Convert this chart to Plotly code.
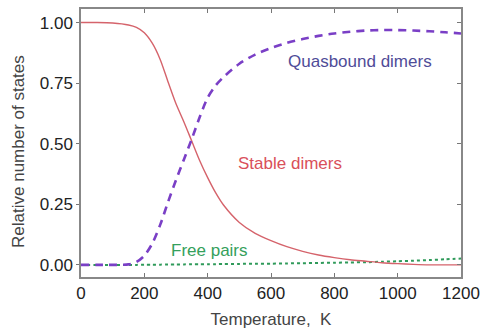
import plotly.graph_objects as go

temperature = [0, 50, 100, 150, 175, 200, 225, 250, 275, 300, 325, 350, 375, 400, 425, 450,
               500, 550, 600, 650, 700, 750, 800, 850, 900, 950, 1000, 1050, 1100, 1150, 1200]
stable = [1.0, 1.0, 0.998, 0.99, 0.98, 0.958, 0.915, 0.848, 0.755, 0.665,
          0.59, 0.51, 0.43, 0.36, 0.298, 0.247, 0.175, 0.13, 0.10, 0.075,
          0.056, 0.041, 0.03, 0.021, 0.015, 0.009, 0.005, 0.002, 0.0, 0.0, 0.0]
quasbound = [0, 0, 0, 0.002, 0.012, 0.038, 0.088, 0.165, 0.26, 0.35,
             0.435, 0.52, 0.61, 0.69, 0.74, 0.775, 0.83, 0.868, 0.895, 0.916,
             0.932, 0.945, 0.955, 0.962, 0.967, 0.969, 0.969, 0.967, 0.964, 0.96, 0.955]
free = [0, 0, 0, 0, 0, 0.001, 0.001, 0.001, 0.002, 0.002,
        0.002, 0.003, 0.003, 0.003, 0.003, 0.004, 0.004, 0.005, 0.005, 0.006,
        0.007, 0.008, 0.009, 0.01, 0.011, 0.013, 0.015, 0.017, 0.02, 0.023, 0.026]

x_ticks = [0, 200, 400, 600, 800, 1000, 1200]
y_ticks = [0, 0.25, 0.5, 0.75, 1.0]
y_tick_labels = ["0.00", "0.25", "0.50", "0.75", "1.00"]

labels = ["Quasbound dimers", "Stable dimers", "Free pairs"]
label_x = [880, 660, 405]
label_y = [0.84, 0.42, 0.06]
label_colors = ["#4f4c98", "#d9505a", "#34a05c"]

FONT = "Liberation Sans, Arial, sans-serif"

fig = go.Figure()
fig.add_trace(go.Scatter(x=temperature, y=free, mode="lines", line=dict(color="#2f9a5a", width=2, dash="dot", shape="spline", smoothing=0.8), showlegend=False))
fig.add_trace(go.Scatter(x=temperature, y=stable, mode="lines", line=dict(color="#d5636b", width=1.4, shape="spline", smoothing=0.8), showlegend=False))
fig.add_trace(go.Scatter(x=temperature, y=quasbound, mode="lines", line=dict(color="#7a3fc6", width=2.6, dash="8px,6px", shape="spline", smoothing=0.8), showlegend=False))
# invisible trace for right axis
fig.add_trace(go.Scatter(x=[None], y=[None], yaxis="y2", showlegend=False))

for t, xx, yy, c in zip(labels, label_x, label_y, label_colors):
    fig.add_annotation(x=xx, y=yy, text=t, showarrow=False, font=dict(family=FONT, size=17, color=c), xanchor="center", yanchor="middle")

# y-axis title
fig.add_annotation(x=-0.166, y=0.47, xref="paper", yref="paper", text="Relative number of states", textangle=-90,
                   showarrow=False, font=dict(family=FONT, size=17, color="#444"), xanchor="center", yanchor="middle")

fig.update_layout(
    width=482, height=331,
    margin=dict(l=81, r=21, t=9, b=54),
    paper_bgcolor="white", plot_bgcolor="white",
    font=dict(family=FONT, color="#222"),
    xaxis=dict(range=[0, 1200], tickvals=x_ticks, ticks="inside", ticklen=4, tickcolor="#777",
               showline=True, linecolor="#888", linewidth=1.5, mirror="ticks", showgrid=False, zeroline=False,
               tickfont=dict(size=17, color="#222"), automargin=False,
               title=dict(text="Temperature,  K", font=dict(size=17, color="#444"), standoff=11)),
    yaxis=dict(range=[-0.05, 1.056], tickvals=y_ticks, ticktext=y_tick_labels, ticks="outside", ticklen=3, tickcolor="#777",
               showline=True, linecolor="#888", linewidth=1.5, showgrid=False, zeroline=False,
               tickfont=dict(size=17, color="#222"), automargin=False),
    yaxis2=dict(overlaying="y", side="right", matches="y", tickvals=y_ticks, ticks="inside", ticklen=4, tickcolor="#777",
                showticklabels=False, showline=True, linecolor="#888", linewidth=1.5, showgrid=False, zeroline=False,
                automargin=False),
)

fig.write_html("out.html")
